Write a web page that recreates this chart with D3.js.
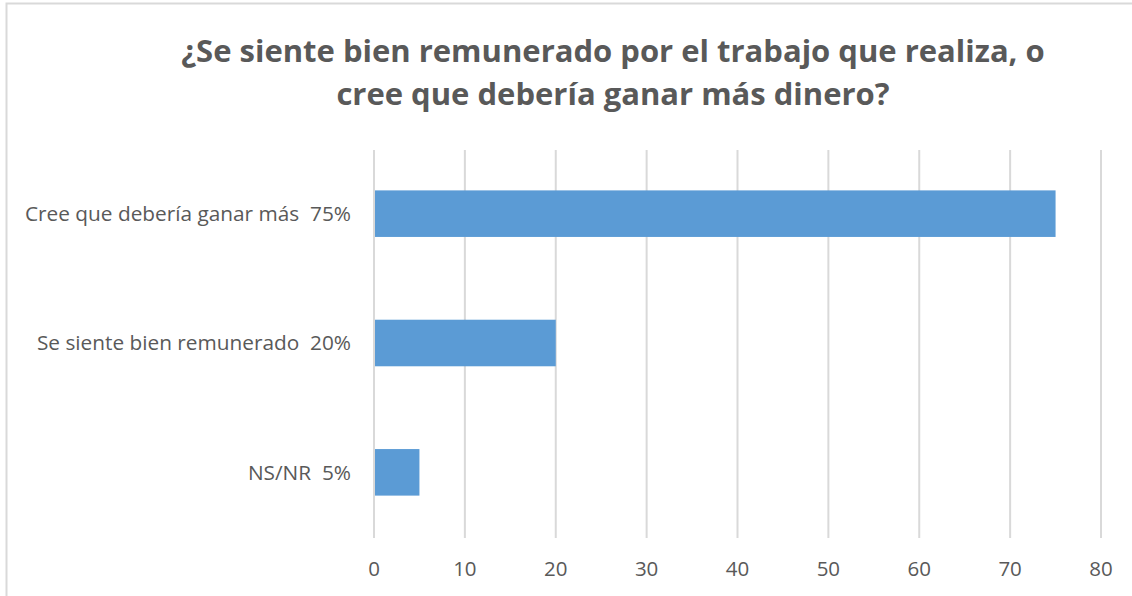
<!DOCTYPE html>
<html>
<head>
<meta charset="utf-8">
<script src="https://cdn.jsdelivr.net/npm/d3@7"></script>
<style>
  body { margin: 0; background: #fff; }
  svg { font-family: "Open Sans", "Noto Sans", sans-serif; }
</style>
</head>
<body>
<div id="chart"></div>
<script>
const categories = ["Cree que debería ganar más  75%", "Se siente bien remunerado  20%", "NS/NR  5%"];
const values = [75, 20, 5];
const xTicks = [0, 10, 20, 30, 40, 50, 60, 70, 80];
const titleLines = ["¿Se siente bien remunerado por el trabajo que realiza, o", "cree que debería ganar más dinero?"];

const width = 1132, height = 596;
const margin = { top: 150, right: 31, bottom: 58, left: 374 };

const svg = d3.select("#chart").append("svg")
  .attr("width", width)
  .attr("height", height);

// chart border
svg.append("rect")
  .attr("x", 6.5).attr("y", 3.5)
  .attr("width", width + 10).attr("height", height + 10)
  .attr("fill", "none")
  .attr("stroke", "#d9d9d9")
  .attr("stroke-width", 2);

const x = d3.scaleLinear().domain([0, 80]).range([margin.left, width - margin.right]);
const y = d3.scaleBand().domain(categories).range([margin.top, height - margin.bottom]).paddingInner(0.64).paddingOuter(0.32);

// gridlines
svg.append("g")
  .selectAll("line")
  .data(xTicks)
  .enter().append("line")
  .attr("x1", d => x(d)).attr("x2", d => x(d))
  .attr("y1", margin.top).attr("y2", height - margin.bottom)
  .attr("stroke", "#d9d9d9")
  .attr("stroke-width", 2);

// bars
svg.append("g")
  .selectAll("rect")
  .data(values)
  .enter().append("rect")
  .attr("x", x(0) + 1)
  .attr("y", (d, i) => y(categories[i]) - 1)
  .attr("width", d => x(d) - x(0) - 1)
  .attr("height", y.bandwidth())
  .attr("fill", "#5b9bd5");

// x tick labels
svg.append("g")
  .selectAll("text")
  .data(xTicks)
  .enter().append("text")
  .attr("x", d => x(d))
  .attr("y", 576)
  .attr("text-anchor", "middle")
  .style("font-size", "20.5px")
  .style("fill", "#595959")
  .text(d => d);

// category labels
svg.append("g")
  .selectAll("text")
  .data(categories)
  .enter().append("text")
  .attr("x", 351)
  .attr("y", d => y(d) + y.bandwidth() / 2 - 1)
  .attr("dy", "0.35em")
  .attr("text-anchor", "end")
  .style("font-size", "20.8px")
  .style("fill", "#595959")
  .style("white-space", "pre")
  .attr("xml:space", "preserve")
  .text(d => d);

// title
svg.append("g")
  .selectAll("text")
  .data(titleLines)
  .enter().append("text")
  .attr("x", 613)
  .attr("y", (d, i) => 62 + i * 43)
  .attr("text-anchor", "middle")
  .style("font-size", "31px")
  .style("font-weight", "bold")
  .style("fill", "#595959")
  .text(d => d);
</script>
</body>
</html>
